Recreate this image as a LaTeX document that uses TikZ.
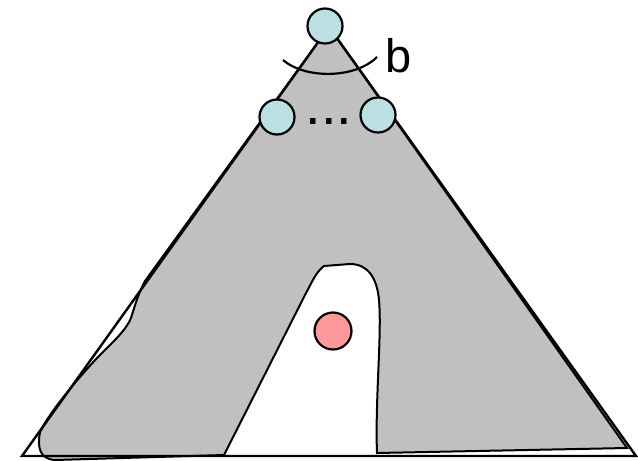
\documentclass[tikz,border=0pt]{standalone}
\usepackage{fontspec}
\setmainfont{Liberation Sans}
\usepackage{tikz}
\definecolor{nodeblue}{RGB}{187,224,227}
\definecolor{nodered}{RGB}{255,153,153}
\definecolor{regiongray}{RGB}{192,192,192}
\tikzstyle{leaf} = [
    circle,
    minimum size=35pt,
    inner sep=0pt,
    fill=nodeblue,
    draw=black,
    line width=2.2pt
]
\tikzstyle{target} = [
    circle,
    minimum size=37pt,
    inner sep=0pt,
    fill=nodered,
    draw=black,
    line width=2.2pt
]
\tikzstyle{region} = [
    fill=regiongray,
    draw=black,
    line width=2pt
]
\tikzstyle{outline} = [
    draw=black,
    line width=2.4pt,
    line join=miter
]

\begin{document}
\begin{tikzpicture}[x=1pt, y=-1pt]

\useasboundingbox (0,0) rectangle (638,461);

\coordinate (apex) at (329,27);
\coordinate (left) at (22,456);
\coordinate (right) at (636,456);

\path [region] (apex) -- (627,448) -- (377,453)
    .. controls (375,400) and (382,335) .. (379,300)
    .. controls (377,278) and (368,264) .. (350,264)
    -- (324,266)
    .. controls (316,272) and (312,282) .. (305,295)
    -- (224,455) -- (55,460)
    .. controls (40,459) and (37,448) .. (40,432)
    .. controls (48,415) and (72,385) .. (97,358)
    .. controls (115,340) and (126,330) .. (131,318)
    .. controls (135,305) and (139,292) .. (145,281)
    -- cycle;

\path [outline] (apex) -- (left) -- (right) -- cycle;

\node (root) [leaf] at (325,26) {};
\node (child1) [leaf] at (277,117) {};
\node (child2) [leaf] at (378,115) {};
\node (dots) [anchor=base, inner sep=0pt, font=\fontsize{56}{60}\selectfont]
    at (329,124) {...};

\coordinate (arcL) at (283,60);
\coordinate (arcR) at (377,57);
\draw [line width=2.2pt] (arcL) .. controls (305,79) and (355,79) .. (arcR);
\node (blabel) [anchor=base west, inner sep=0pt, font=\fontsize{47}{52}\selectfont]
    at (385,72) {b};

\node (goal) [target] at (333,331) {};

\end{tikzpicture}
\end{document}
